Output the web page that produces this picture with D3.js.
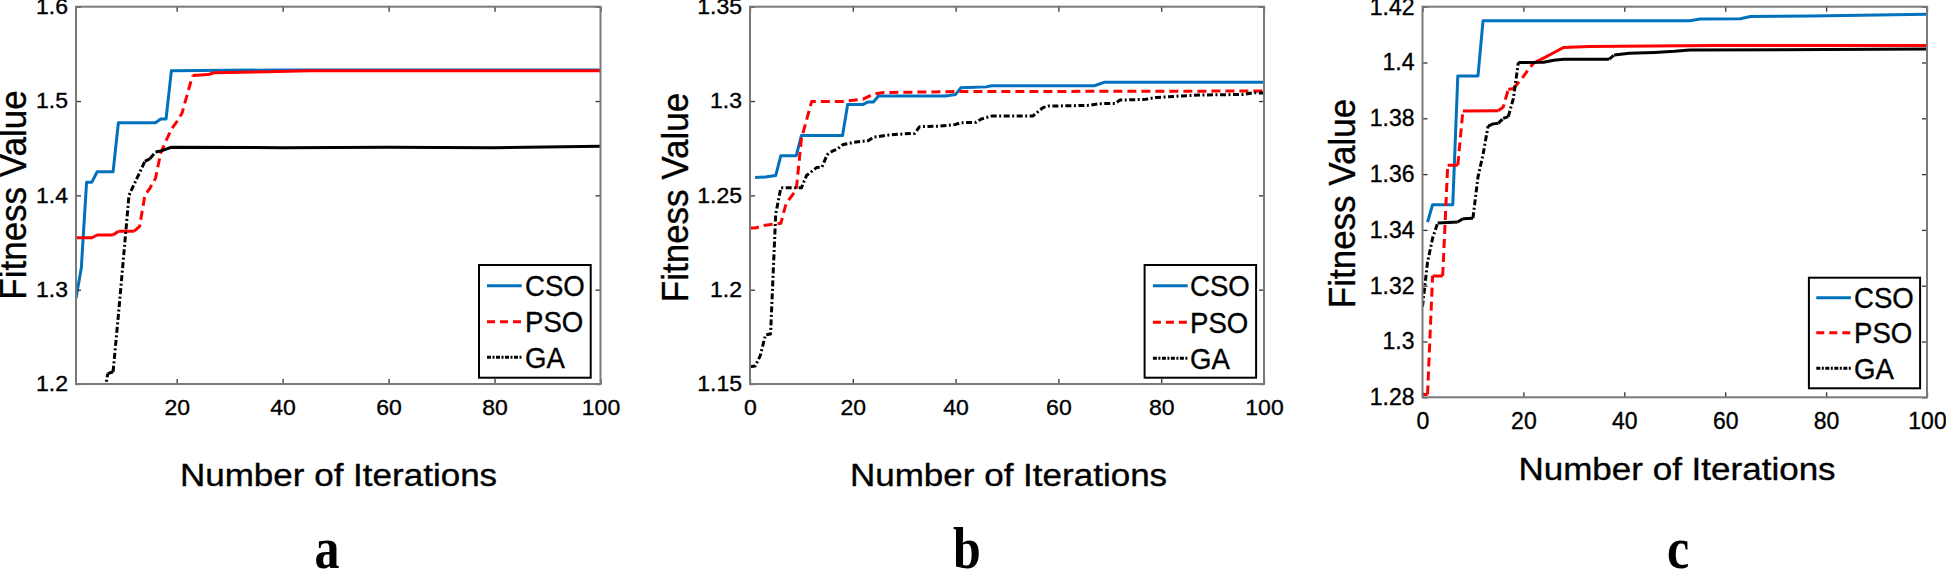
<!DOCTYPE html>
<html><head><meta charset="utf-8">
<script src="https://cdn.jsdelivr.net/npm/d3@7"></script>
<style>body{margin:0;background:#fff;} svg{display:block;}</style>
</head><body>
<svg id="chart" width="1946" height="572"></svg>
<script>
// ---------------- data ----------------
const seriesNames = ["CSO", "PSO", "GA"];
const panelLetters = ["a", "b", "c"];
const xTitle = "Number of Iterations";
const yTitle = "Fitness Value";

const xTicksA = [20, 40, 60, 80, 100];
const xTicksB = [0, 20, 40, 60, 80, 100];
const xTicksC = [0, 20, 40, 60, 80, 100];
const yTicksA = [1.2, 1.3, 1.4, 1.5, 1.6];
const yTickLabelsA = ["1.2", "1.3", "1.4", "1.5", "1.6"];
const yTicksB = [1.15, 1.2, 1.25, 1.3, 1.35];
const yTickLabelsB = ["1.15", "1.2", "1.25", "1.3", "1.35"];
const yTicksC = [1.28, 1.3, 1.32, 1.34, 1.36, 1.38, 1.4, 1.42];
const yTickLabelsC = ["1.28", "1.3", "1.32", "1.34", "1.36", "1.38", "1.4", "1.42"];

// panel a  [iteration, fitness]
const csoA = [[1,1.291],[2,1.323],[3,1.414],[4,1.414],[5,1.425],[8,1.425],[9,1.477],[16,1.477],[17,1.481],[18,1.481],[19,1.532],[40,1.533],[100,1.533]];
const psoA = [[1,1.355],[4,1.355],[5,1.358],[8,1.358],[9,1.362],[12,1.362],[13,1.367],[14,1.400],[15,1.408],[16,1.418],[17,1.445],[18,1.458],[19,1.470],[20,1.478],[21,1.487],[23,1.527],[26,1.528],[27,1.530],[37,1.531],[45,1.532],[100,1.532]];
const gaA  = [[6,1.180],[7,1.211],[8,1.213],[9,1.273],[10,1.336],[11,1.400],[12,1.412],[13,1.424],[14,1.436],[15,1.439],[16,1.446],[17,1.447],[18,1.449],[19,1.451],[40,1.4505],[60,1.451],[80,1.4505],[100,1.452]];

// panel b
const csoB = [[1,1.2595],[3,1.2597],[5,1.2605],[6,1.2710],[9,1.2710],[10,1.2817],[18,1.2817],[19,1.2982],[22,1.2982],[23,1.2995],[24,1.2995],[25,1.3027],[38,1.3027],[40,1.3035],[41,1.3070],[46,1.3075],[47,1.3081],[67,1.3081],[69,1.3100],[100,1.3100]];
const psoB = [[0,1.2327],[1,1.2327],[3,1.2342],[6,1.2352],[7,1.2455],[9,1.2530],[10,1.2800],[12,1.2998],[18,1.2998],[22,1.3010],[24,1.3037],[26,1.3045],[40,1.3050],[100,1.3053]];
const gaB  = [[0,1.1592],[1,1.1595],[2,1.1650],[3,1.1760],[4,1.1765],[5,1.2400],[6,1.2540],[10,1.2540],[11,1.2605],[13,1.2648],[14,1.2650],[15,1.2715],[16,1.2734],[17,1.2745],[18,1.2768],[20,1.2780],[22,1.2787],[23,1.2790],[24,1.2808],[27,1.2820],[30,1.2826],[32,1.2828],[33,1.2864],[37,1.2867],[40,1.2876],[41,1.2885],[44,1.2887],[45,1.2905],[47,1.2920],[55,1.2920],[57,1.2965],[58,1.2973],[66,1.2977],[68,1.2986],[71,1.2987],[72,1.3005],[77,1.3009],[79,1.3019],[84,1.3027],[88,1.3032],[96,1.3035],[98,1.3044],[100,1.3042]];

// panel c
const csoC = [[1,1.3428],[2,1.3490],[6,1.3490],[7,1.3952],[11,1.3952],[12,1.4150],[53,1.4150],[55,1.4156],[63,1.4157],[65,1.4165],[77,1.4167],[100,1.4173]];
const psoC = [[0,1.2810],[1,1.2810],[2,1.3235],[4,1.3235],[5,1.3632],[7,1.3632],[8,1.3826],[15,1.3827],[16,1.3840],[17,1.3904],[18,1.3906],[20,1.3950],[21,1.3975],[22,1.3998],[24,1.4016],[26,1.4035],[28,1.4054],[33,1.4057],[58,1.4061],[100,1.4061]];
const gaC  = [[0,1.3125],[1,1.3285],[2,1.3370],[3,1.3425],[7,1.3428],[8,1.3440],[10,1.3442],[11,1.3590],[12,1.3670],[13,1.3772],[14,1.3780],[15,1.3782],[16,1.3800],[17,1.3806],[18,1.3870],[19,1.4000],[24,1.4001],[26,1.4008],[28,1.4012],[37,1.4012],[38,1.4027],[41,1.4033],[46,1.4036],[50,1.4040],[53,1.4045],[100,1.4048]];

// ---------------- styles / layout ----------------
const seriesStyle = [
  {color: "#0072BD", dash: null},
  {color: "#FF0000", dash: "9,5"},
  {color: "#000000", dash: "6,2.5,2,2.5"}
];
const SANS = "'Liberation Sans', Arial, Helvetica, sans-serif";
const SERIF = "'Liberation Serif', 'Times New Roman', serif";
const TEXT_STROKE = 0.35;

const panels = [
  {letter: panelLetters[0], data: [csoA, psoA, gaA], xDomain: [1, 100], yDomain: [1.2, 1.6],
   xTicks: xTicksA, yTicks: yTicksA, yLabels: yTickLabelsA,
   left: 76, right: 600.5, top: 6.7, bottom: 384, tickFont: 21.5, tickSx: 1.07, xPad: 16,
   dashFlat: false, xTitleX: 338.5, xTitleY: 486, yTitleX: 26, yTitleY: 195,
   leg: {x0: 479, x1: 590.7, y0: 265, y1: 377.7, lx0: 487, lx1: 521.7, tx: 525, rows: [285.7, 321.7, 357.3]},
   labelX: 327},
  {letter: panelLetters[1], data: [csoB, psoB, gaB], xDomain: [0, 100], yDomain: [1.15, 1.35],
   xTicks: xTicksB, yTicks: yTicksB, yLabels: yTickLabelsB,
   left: 750, right: 1264, top: 6.7, bottom: 384, tickFont: 21.5, tickSx: 1.07, xPad: 16,
   dashFlat: true, xTitleX: 1008.5, xTitleY: 486, yTitleX: 688, yTitleY: 197.5,
   leg: {x0: 1144.6, x1: 1256.1, y0: 265, y1: 377.7, lx0: 1152.9, lx1: 1187.7, tx: 1190, rows: [285.7, 322.3, 358.3]},
   labelX: 967},
  {letter: panelLetters[2], data: [csoC, psoC, gaC], xDomain: [0, 100], yDomain: [1.28, 1.42],
   xTicks: xTicksC, yTicks: yTicksC, yLabels: yTickLabelsC,
   left: 1422.5, right: 1927, top: 6.7, bottom: 397.3, tickFont: 23, tickSx: 1.0, xPad: 15,
   dashFlat: false, xTitleX: 1677, xTitleY: 480, yTitleX: 1355, yTitleY: 203.5,
   leg: {x0: 1808.9, x1: 1920.1, y0: 277.7, y1: 388.3, lx0: 1816.3, lx1: 1850.9, tx: 1854, rows: [297.7, 332.7, 368.3]},
   labelX: 1678}
];

const svg = d3.select("#chart");
svg.append("rect").attr("width", 1946).attr("height", 572).attr("fill", "#fff");

function drawSeries(g, data, style, x, y, dashFlat) {
  const line = d3.line().x(d => x(d[0])).y(d => y(d[1]));
  const base = p => p.attr("fill", "none").attr("stroke", style.color).attr("stroke-width", 3)
                     .attr("stroke-linejoin", "round");
  if (!style.dash || dashFlat) {
    const p = g.append("path").datum(data).attr("d", line);
    base(p);
    if (style.dash) p.attr("stroke-dasharray", style.dash);
    return;
  }
  const runs = [];
  let cur = [data[0]], curSteep = null;
  for (let i = 1; i < data.length; i++) {
    const dx = Math.abs(x(data[i][0]) - x(data[i - 1][0]));
    const dy = Math.abs(y(data[i][1]) - y(data[i - 1][1]));
    const steep = dy > 0.6 * dx;
    if (curSteep === null || steep === curSteep) { cur.push(data[i]); curSteep = steep; }
    else { runs.push({pts: cur, steep: curSteep}); cur = [data[i - 1], data[i]]; curSteep = steep; }
  }
  runs.push({pts: cur, steep: curSteep});
  runs.forEach(r => {
    const p = g.append("path").datum(r.pts).attr("d", line);
    base(p);
    if (r.steep) p.attr("stroke-dasharray", style.dash);
  });
}

function heavy(sel) {
  return sel.attr("stroke", "#000").attr("stroke-width", TEXT_STROKE);
}

panels.forEach(cfg => {
  const x = d3.scaleLinear().domain(cfg.xDomain).range([cfg.left, cfg.right]);
  const y = d3.scaleLinear().domain(cfg.yDomain).range([cfg.bottom, cfg.top]);
  const g = svg.append("g");
  const clipId = "clip-" + cfg.letter;
  svg.append("clipPath").attr("id", clipId).append("rect")
    .attr("x", cfg.left).attr("y", cfg.top)
    .attr("width", cfg.right - cfg.left).attr("height", cfg.bottom - cfg.top);

  const lg = g.append("g").attr("clip-path", `url(#${clipId})`);
  cfg.data.forEach((d, i) => drawSeries(lg, d, seriesStyle[i], x, y, cfg.dashFlat));

  // axes
  const tickStroke = "#333";
  const bAxis = g.append("g").attr("transform", `translate(0,${cfg.bottom})`)
    .call(d3.axisBottom(x).tickValues(cfg.xTicks).tickFormat(d3.format("d"))
      .tickSize(-5).tickSizeOuter(0).tickPadding(cfg.xPad));
  bAxis.attr("font-family", SANS).attr("font-size", cfg.tickFont);
  heavy(bAxis.selectAll("text").attr("fill", "#000").attr("transform", `scale(${cfg.tickSx},1)`));

  const tAxis = g.append("g").attr("transform", `translate(0,${cfg.top})`)
    .call(d3.axisTop(x).tickValues(cfg.xTicks).tickFormat("").tickSize(-5).tickSizeOuter(0));

  const lAxis = g.append("g").attr("transform", `translate(${cfg.left},0)`)
    .call(d3.axisLeft(y).tickValues(cfg.yTicks).tickFormat((d, i) => cfg.yLabels[i])
      .tickSize(-5).tickSizeOuter(0).tickPadding(8));
  lAxis.attr("font-family", SANS).attr("font-size", cfg.tickFont);
  heavy(lAxis.selectAll("text").attr("fill", "#000")
    .attr("x", -8 / cfg.tickSx).attr("transform", `scale(${cfg.tickSx},1)`));

  const rAxis = g.append("g").attr("transform", `translate(${cfg.right},0)`)
    .call(d3.axisRight(y).tickValues(cfg.yTicks).tickFormat("").tickSize(-5).tickSizeOuter(0));

  [bAxis, tAxis, lAxis, rAxis].forEach(a => {
    a.select(".domain").remove();
    a.selectAll(".tick line").attr("stroke", tickStroke).attr("stroke-width", 1.3);
  });

  // box
  g.append("rect").attr("x", cfg.left).attr("y", cfg.top)
    .attr("width", cfg.right - cfg.left).attr("height", cfg.bottom - cfg.top)
    .attr("fill", "none").attr("stroke", "#7a7a7a").attr("stroke-width", 2);

  // titles
  heavy(g.append("text").text(xTitle)
    .attr("font-family", SANS).attr("font-size", 31).attr("text-anchor", "middle").attr("fill", "#000")
    .attr("transform", `translate(${cfg.xTitleX},${cfg.xTitleY}) scale(1.13,1)`));
  heavy(g.append("text").text(yTitle)
    .attr("font-family", SANS).attr("font-size", 35).attr("text-anchor", "middle").attr("fill", "#000")
    .attr("transform", `translate(${cfg.yTitleX},${cfg.yTitleY}) scale(1.05,1) rotate(-90)`));

  // legend
  const L = cfg.leg;
  g.append("rect").attr("x", L.x0).attr("y", L.y0).attr("width", L.x1 - L.x0).attr("height", L.y1 - L.y0)
    .attr("fill", "#fff").attr("stroke", "#000").attr("stroke-width", 2);
  seriesNames.forEach((name, i) => {
    const ln = g.append("line").attr("x1", L.lx0).attr("x2", L.lx1).attr("y1", L.rows[i]).attr("y2", L.rows[i])
      .attr("stroke", seriesStyle[i].color).attr("stroke-width", 3);
    if (seriesStyle[i].dash) ln.attr("stroke-dasharray", i === 1 ? "8,5" : "4,1.5,2,1.5");
    heavy(g.append("text").text(name)
      .attr("font-family", SANS).attr("font-size", 30).attr("fill", "#000")
      .attr("transform", `translate(${L.tx},${L.rows[i] + 10.7}) scale(0.92,1)`));
  });

  // panel letter
  g.append("text").text(cfg.letter)
    .attr("font-family", SERIF).attr("font-weight", "bold").attr("font-size", 50)
    .attr("text-anchor", "middle").attr("fill", "#000")
    .attr("transform", `translate(${cfg.labelX},568) scale(1,1.2)`);
});
</script>
</body></html>
